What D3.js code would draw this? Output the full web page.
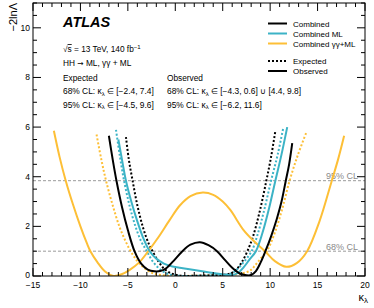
<!DOCTYPE html>
<html><head><meta charset="utf-8">
<script src="https://cdn.jsdelivr.net/npm/d3@7"></script>
<style>body{margin:0;background:#fff}svg{display:block;font-family:"Liberation Sans",Arial,sans-serif}</style>
</head><body>
<svg id="c" width="374" height="308"></svg>
<script>
// ---- data ----
const combObsK = [-7.0,-6.6,-6.2,-5.6,-5.0,-4.3,-3.6,-2.9,-2.2,-1.6,-1.0,-0.2,0.7,1.6,2.6,3.5,4.4,5.2,6.0,6.8,7.5,8.0,8.5,9.0,9.5,10.1,10.7,11.2,11.65,12.0,12.33];
const combObsY = [5.65,4.7,3.84,2.75,1.85,1.0,0.5,0.26,0.19,0.2,0.3,0.6,0.98,1.26,1.36,1.24,1.0,0.66,0.33,0.1,0.03,0.04,0.2,0.55,1.0,1.6,2.3,3.0,3.84,4.5,5.35];
const combExpK = [-5.2,-4.9,-4.5,-4.0,-3.4,-2.8,-2.4,-1.8,-1.2,-0.5,0.3,1.0,2.0,3.0,4.0,5.0,5.8,6.4,7.0,7.6,8.2,8.9,9.6,10.1,10.55];
const combExpY = [5.6,4.7,3.84,2.85,1.95,1.3,1.0,0.6,0.3,0.12,0.03,0.0,0.01,0.02,0.03,0.05,0.1,0.25,0.55,1.0,1.6,2.6,3.84,4.8,5.85];
const mlObsK = [-6.0,-5.6,-5.2,-4.6,-4.0,-3.4,-2.7,-2.0,-1.2,-0.3,0.8,2.0,3.0,4.2,5.2,6.0,6.6,7.2,7.8,8.5,9.2,9.9,10.55,11.2,11.8];
const mlObsY = [5.5,4.65,3.84,2.95,2.2,1.55,1.0,0.7,0.5,0.38,0.31,0.24,0.18,0.11,0.05,0.04,0.12,0.35,0.65,1.0,1.75,2.75,3.84,4.9,6.0];
const mlExpK = [-6.25,-5.85,-5.4,-4.8,-4.2,-3.6,-3.0,-2.4,-1.7,-1.0,-0.2,1.0,2.5,4.0,5.2,6.0,6.6,7.3,8.05,8.7,9.4,10.1,10.8,11.4];
const mlExpY = [5.89,4.85,3.84,2.8,2.0,1.4,1.0,0.6,0.3,0.12,0.03,0.0,0.01,0.02,0.05,0.12,0.3,0.6,1.0,1.7,2.7,3.84,4.9,6.0];
const ggmlObsK = [-12.8,-12.2,-11.55,-10.8,-10.0,-9.3,-8.95,-8.2,-7.4,-6.5,-5.6,-4.8,-3.8,-2.85,-1.8,-0.6,0.5,1.6,2.9,4.0,5.0,5.8,7.2,8.3,9.45,10.5,11.7,12.8,13.9,15.2,16.5,17.2,17.8];
const ggmlObsY = [5.85,4.8,3.84,2.9,2.0,1.3,1.0,0.55,0.18,0.0,0.08,0.25,0.55,1.0,1.55,2.25,2.85,3.22,3.36,3.27,3.0,2.66,1.85,1.4,1.0,0.6,0.37,0.52,1.0,2.2,3.84,4.75,5.65];
const ggmlExpK = [-8.3,-7.8,-7.3,-6.6,-5.9,-5.3,-4.7,-4.0,-3.2,-2.4,-1.5,-0.5,0.5,2.0,3.5,5.0,6.2,7.2,7.9,8.4,9.0,9.65,10.4,11.2,12.05,12.9,13.85];
const ggmlExpY = [5.7,4.7,3.84,2.85,2.0,1.45,1.0,0.6,0.3,0.12,0.04,0.01,0.0,0.01,0.02,0.03,0.06,0.12,0.22,0.42,0.7,1.0,1.65,2.6,3.84,4.85,5.82];
const xTicks = [-15,-10,-5,0,5,10,15,20];
const yTicks = [0,2,4,6,8,10];
const clLevels = [3.84, 1];
const clLabels = ["95% CL", "68% CL"];
const legendNames = ["Combined", "Combined ML", "Combined \u03b3\u03b3+ML"];
const styleNames = ["Expected", "Observed"];

// ---- layout ----
const L=33,R=365,T=3,B=276;
const svg=d3.select("#c");
const x=d3.scaleLinear().domain([-15,20]).range([L,R]);
const y=d3.scaleLinear().domain([0,11]).range([B,T]);
const colBlack="#000", colCyan="#3cb3c6", colYel="#fdbf36";

svg.append("defs").append("clipPath").attr("id","clip").append("rect")
  .attr("x",L).attr("y",T).attr("width",R-L).attr("height",B-T);

// CL lines
clLevels.forEach((v,i)=>{
  svg.append("line").attr("x1",L).attr("x2",R).attr("y1",y(v)).attr("y2",y(v))
    .attr("stroke","#9a9a9a").attr("stroke-width",1).attr("stroke-dasharray","3,2");
  svg.append("text").attr("x",358).attr("y",y(v)-1.5).attr("text-anchor","end")
    .attr("font-size",9).attr("fill","#8a8a8a").text(clLabels[i]);
});

// curves
const line=d3.line().x(d=>x(d[0])).y(d=>y(d[1])).curve(d3.curveCatmullRom.alpha(0.5));
const series=[
  [ggmlExpK,ggmlExpY,colYel,true],[mlExpK,mlExpY,colCyan,true],[combExpK,combExpY,colBlack,true],
  [ggmlObsK,ggmlObsY,colYel,false],[mlObsK,mlObsY,colCyan,false],[combObsK,combObsY,colBlack,false]
];
const g=svg.append("g").attr("clip-path","url(#clip)");
series.forEach(([ks,ys,c,dot])=>{
  g.append("path").attr("d",line(ks.map((k,i)=>[k,ys[i]]))).attr("fill","none")
   .attr("stroke",c).attr("stroke-width",2).attr("stroke-dasharray",dot?"2,2":null);
});

// frame
svg.append("rect").attr("x",L).attr("y",T).attr("width",R-L).attr("height",B-T)
  .attr("fill","none").attr("stroke","#000").attr("stroke-width",1);

// ticks
const tk=svg.append("g").attr("stroke","#000").attr("stroke-width",1);
d3.range(-15,20.01,1).forEach(v=>{
  const major=v%5===0, len=major?8:4;
  tk.append("line").attr("x1",x(v)).attr("x2",x(v)).attr("y1",B).attr("y2",B-len);
  tk.append("line").attr("x1",x(v)).attr("x2",x(v)).attr("y1",T).attr("y2",T+len);
});
d3.range(0,11.01,0.5).forEach(v=>{
  const major=Math.abs(v%2)<1e-9, len=major?8:4;
  tk.append("line").attr("y1",y(v)).attr("y2",y(v)).attr("x1",L).attr("x2",L+len);
  tk.append("line").attr("y1",y(v)).attr("y2",y(v)).attr("x1",R).attr("x2",R-len);
});
const fmt=v=>(v<0?"\u2212":"")+Math.abs(v);
xTicks.forEach(v=>svg.append("text").attr("x",x(v)).attr("y",B+12).attr("text-anchor","middle")
  .attr("font-size",8.5).text(fmt(v)));
yTicks.forEach(v=>svg.append("text").attr("x",L-3).attr("y",y(v)+(v===0?1.5:3)).attr("text-anchor","end")
  .attr("font-size",8.5).text(fmt(v)));

// axis titles
svg.append("text").attr("transform","translate(17,3) rotate(-90)").attr("text-anchor","end")
  .attr("font-size",11).text("\u22122ln\u039b");
const xl=svg.append("text").attr("x",368).attr("y",301).attr("text-anchor","end").attr("font-size",11);
xl.append("tspan").text("\u03ba");
xl.append("tspan").attr("font-size",8).attr("dy",2).text("\u03bb");

// ATLAS block
svg.append("text").attr("x",63).attr("y",27).attr("font-size",14.5).attr("font-weight","bold")
  .attr("font-style","italic").text("ATLAS");
const t1=svg.append("text").attr("x",63).attr("y",52).attr("font-size",8.3);
t1.append("tspan").text("\u221a");
t1.append("tspan").style("text-decoration","overline").text("s");
t1.append("tspan").text(" = 13 TeV, 140 fb");
t1.append("tspan").attr("font-size",6).attr("dy",-3).text("\u22121");
const t2=svg.append("text").attr("x",63).attr("y",66).attr("font-size",8.3);
t2.append("tspan").text("HH ");
t2.append("tspan").attr("font-family","DejaVu Sans").attr("font-size",7.5).text("\u2192");
t2.append("tspan").text(" ML, \u03b3\u03b3 + ML");
svg.append("text").attr("x",63).attr("y",80.5).attr("font-size",8.3).text("Expected");
svg.append("text").attr("x",167).attr("y",80.5).attr("font-size",8.3).text("Observed");
function clText(xp,yp,pre,post){
  const t=svg.append("text").attr("x",xp).attr("y",yp).attr("font-size",8.4);
  t.append("tspan").text(pre+" \u03ba");
  t.append("tspan").attr("font-size",6).attr("dy",1.5).text("\u03bb");
  t.append("tspan").attr("dy",-1.5).text(" \u2208 "+post);
}
clText(63,94,"68% CL:","[\u22122.4, 7.4]");
clText(63,107.5,"95% CL:","[\u22124.5, 9.6]");
clText(167,94,"68% CL:","[\u22124.3, 0.6] \u222a [4.4, 9.8]");
clText(167,107.5,"95% CL:","[\u22126.2, 11.6]");

// legend
const legCols=[colBlack,colCyan,colYel];
legendNames.forEach((n,i)=>{
  const yy=23.5+i*10;
  svg.append("line").attr("x1",268).attr("x2",287).attr("y1",yy).attr("y2",yy).attr("stroke",legCols[i]).attr("stroke-width",2);
  svg.append("text").attr("x",293).attr("y",yy+3).attr("font-size",8).text(n);
});
styleNames.forEach((n,i)=>{
  const yy=61+i*10;
  svg.append("line").attr("x1",268).attr("x2",287).attr("y1",yy).attr("y2",yy).attr("stroke","#000")
    .attr("stroke-width",2).attr("stroke-dasharray",i===0?"2,2":null);
  svg.append("text").attr("x",293).attr("y",yy+3).attr("font-size",8).text(n);
});
</script>
</body></html>
